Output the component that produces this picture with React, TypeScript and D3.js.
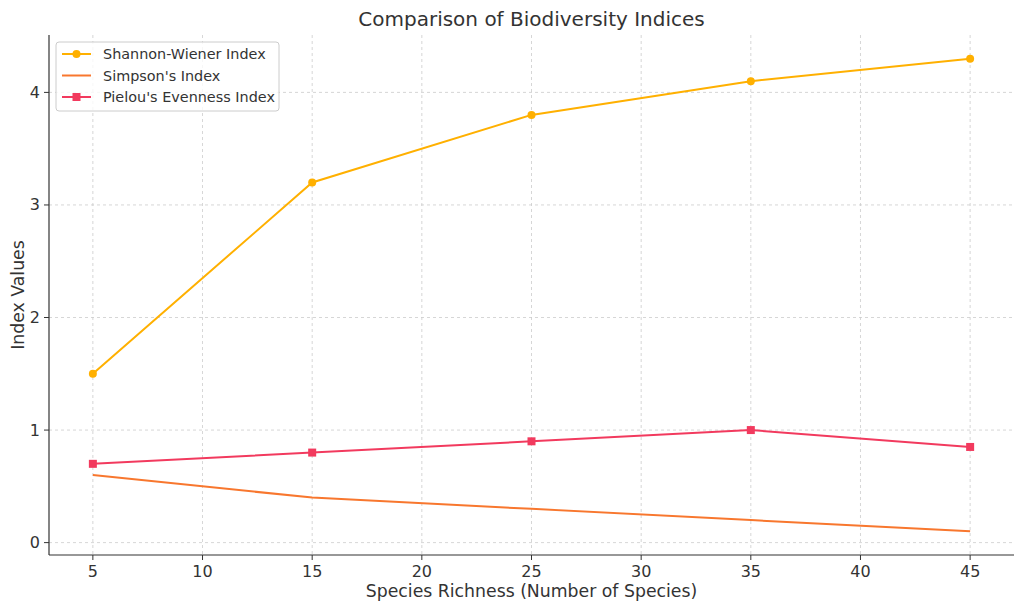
import React from "react";
import * as d3 from "d3";

const speciesRichness = [5, 15, 25, 35, 45];
const shannonWiener = [1.5, 3.2, 3.8, 4.1, 4.3];
const simpson = [0.6, 0.4, 0.3, 0.2, 0.1];
const pielou = [0.7, 0.8, 0.9, 1.0, 0.85];
const xTicks = [5, 10, 15, 20, 25, 30, 35, 40, 45];
const yTicks = [0, 1, 2, 3, 4];

const W = 1024, H = 611;
const left = 49, right = 1014, top = 35, bottom = 555;
const font = "DejaVu Sans, sans-serif";
const textColor = "#333";

export default function App() {
  const x = d3.scaleLinear().domain([3, 47]).range([left, right]);
  const y = d3.scaleLinear().domain([-0.11, 4.51]).range([bottom, top]);
  const line = (vals: number[]) =>
    d3.line<number>().x((_, i) => x(speciesRichness[i])).y((d) => y(d))(vals) || "";

  const c1 = "#FFB000", c2 = "#F8772E", c3 = "#F23A5E";

  return (
    <svg width={W} height={H} style={{ position: "absolute", left: 0, top: 0 }} fontFamily={font}>
      <rect width={W} height={H} fill="#fff" />
      {xTicks.map((t) => (
        <line key={"gx" + t} x1={x(t)} x2={x(t)} y1={top} y2={bottom} stroke="#ccc" strokeDasharray="3,3" strokeWidth={0.8} />
      ))}
      {yTicks.map((t) => (
        <line key={"gy" + t} x1={left} x2={right} y1={y(t)} y2={y(t)} stroke="#ccc" strokeDasharray="3,3" strokeWidth={0.8} />
      ))}
      <path d={line(shannonWiener)} fill="none" stroke={c1} strokeWidth={2} />
      {shannonWiener.map((v, i) => (
        <circle key={"s" + i} cx={x(speciesRichness[i])} cy={y(v)} r={4} fill={c1} />
      ))}
      <path d={line(simpson)} fill="none" stroke={c2} strokeWidth={2} />
      <path d={line(pielou)} fill="none" stroke={c3} strokeWidth={2} />
      {pielou.map((v, i) => (
        <rect key={"p" + i} x={x(speciesRichness[i]) - 4} y={y(v) - 4} width={8} height={8} fill={c3} />
      ))}
      <line x1={left} x2={left} y1={top} y2={bottom} stroke="#333" strokeWidth={1.2} />
      <line x1={left} x2={right} y1={bottom} y2={bottom} stroke="#333" strokeWidth={1.2} />
      {xTicks.map((t) => (
        <g key={"tx" + t}>
          <line x1={x(t)} x2={x(t)} y1={bottom} y2={bottom + 5} stroke="#333" strokeWidth={1} />
          <text x={x(t)} y={bottom + 22} textAnchor="middle" fontSize={16} fill={textColor}>{t}</text>
        </g>
      ))}
      {yTicks.map((t) => (
        <g key={"ty" + t}>
          <line x1={left - 5} x2={left} y1={y(t)} y2={y(t)} stroke="#333" strokeWidth={1} />
          <text x={left - 9} y={y(t) + 5.5} textAnchor="end" fontSize={16} fill={textColor}>{t}</text>
        </g>
      ))}
      <text x={(left + right) / 2} y={26} textAnchor="middle" fontSize={20} fill={textColor}>Comparison of Biodiversity Indices</text>
      <text x={(left + right) / 2} y={597} textAnchor="middle" fontSize={17.3} fill={textColor}>Species Richness (Number of Species)</text>
      <text transform={`translate(24,${(top + bottom) / 2}) rotate(-90)`} textAnchor="middle" fontSize={17.3} fill={textColor}>Index Values</text>
      <g>
        <rect x={56} y={42} width={223} height={69} rx={3} fill="#fff" fillOpacity={0.8} stroke="#ccc" />
        {[
          { label: "Shannon-Wiener Index", color: c1, m: "circle" },
          { label: "Simpson's Index", color: c2, m: "none" },
          { label: "Pielou's Evenness Index", color: c3, m: "square" },
        ].map((d, i) => {
          const yy = 54 + i * 21.5;
          return (
            <g key={d.label}>
              <line x1={62} x2={91} y1={yy} y2={yy} stroke={d.color} strokeWidth={2} />
              {d.m === "circle" && <circle cx={76.5} cy={yy} r={4} fill={d.color} />}
              {d.m === "square" && <rect x={72.5} y={yy - 4} width={8} height={8} fill={d.color} />}
              <text x={103} y={yy + 5} fontSize={14.4} fill={textColor}>{d.label}</text>
            </g>
          );
        })}
      </g>
    </svg>
  );
}
